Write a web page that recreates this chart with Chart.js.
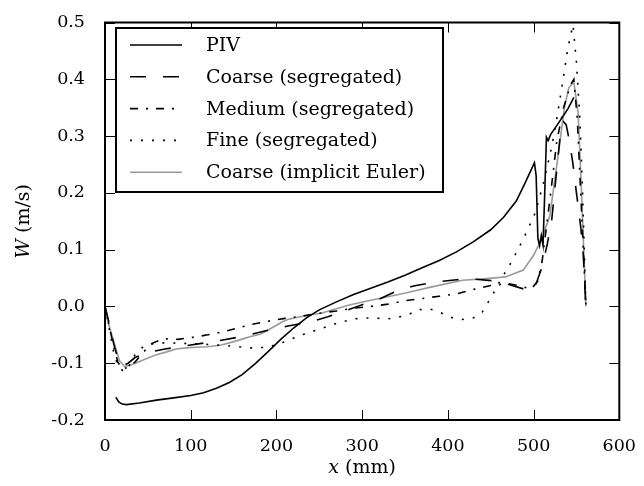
<!DOCTYPE html>
<html>
<head>
<meta charset="utf-8">
<script src="https://cdn.jsdelivr.net/npm/chart.js@4"></script>
<style>
  html, body { margin: 0; padding: 0; background: #fff; }
  #wrap { width: 644px; height: 486px; }
</style>
</head>
<body>
<div id="wrap"><canvas id="profileChart" width="644" height="486"></canvas></div>
<script>
// axial velocity W along x, measured (PIV) vs. simulations
const pivX = [12.7, 16, 20, 25, 40, 60, 80, 100, 115, 130, 145, 160, 175, 190, 205, 220, 235, 250, 270, 290, 310, 330, 350, 370, 390, 410, 430, 450, 465, 480, 490, 497, 501, 503, 505, 507, 509, 511, 513, 515, 517, 520, 530, 540, 547];
const pivW = [-0.16, -0.168, -0.172, -0.173, -0.17, -0.165, -0.161, -0.157, -0.152, -0.144, -0.134, -0.12, -0.101, -0.08, -0.058, -0.038, -0.02, -0.006, 0.008, 0.021, 0.032, 0.043, 0.055, 0.068, 0.081, 0.096, 0.114, 0.135, 0.157, 0.186, 0.217, 0.24, 0.253, 0.23, 0.12, 0.107, 0.125, 0.108, 0.2, 0.298, 0.292, 0.303, 0.325, 0.348, 0.368];

const coarseX = [0, 5, 10, 15, 20, 27, 35, 50, 70, 100, 130, 160, 190, 215, 240, 260, 280, 300, 320, 340, 360, 385, 410, 430, 455, 475, 490, 497, 503, 510, 516, 521, 527, 531, 535, 538, 542, 546, 550, 555, 558, 561];
const coarseW = [0, -0.03, -0.065, -0.092, -0.105, -0.1, -0.09, -0.081, -0.075, -0.068, -0.061, -0.053, -0.042, -0.034, -0.027, -0.018, -0.008, 0.003, 0.013, 0.027, 0.036, 0.043, 0.047, 0.048, 0.045, 0.037, 0.03, 0.026, 0.04, 0.07, 0.11, 0.15, 0.24, 0.3, 0.325, 0.32, 0.29, 0.25, 0.2, 0.14, 0.09, 0.0];

const mediumX = [0, 5, 10, 15, 20, 25, 35, 45, 55, 68, 85, 100, 120, 140, 155, 170, 190, 210, 230, 250, 270, 290, 310, 330, 350, 370, 390, 410, 430, 450, 470, 485, 497, 505, 510, 515, 520, 527, 535, 543, 547, 551, 555, 558, 561];
const mediumW = [0, -0.035, -0.07, -0.098, -0.11, -0.108, -0.098, -0.08, -0.065, -0.057, -0.058, -0.055, -0.05, -0.044, -0.038, -0.032, -0.026, -0.021, -0.017, -0.012, -0.008, -0.003, 0.0, 0.004, 0.01, 0.014, 0.018, 0.022, 0.03, 0.037, 0.04, 0.036, 0.03, 0.045, 0.08, 0.14, 0.2, 0.29, 0.35, 0.39, 0.4, 0.33, 0.2, 0.1, 0.0];

const fineX = [0, 5, 10, 15, 22, 28, 35, 45, 55, 70, 90, 110, 130, 150, 170, 190, 210, 230, 250, 270, 290, 310, 330, 352, 365, 378, 390, 405, 417, 430, 440, 452, 462, 471, 480, 490, 502, 512, 521, 527, 533, 540, 546, 550, 554, 557, 561];
const fineW = [0, -0.04, -0.08, -0.105, -0.115, -0.105, -0.085, -0.07, -0.066, -0.064, -0.065, -0.066, -0.068, -0.07, -0.073, -0.072, -0.062, -0.05, -0.04, -0.03, -0.022, -0.02, -0.022, -0.016, -0.006, -0.004, -0.01, -0.02, -0.023, -0.02, -0.01, 0.02, 0.048, 0.07, 0.095, 0.125, 0.165, 0.22, 0.28, 0.33, 0.386, 0.455, 0.496, 0.43, 0.33, 0.21, 0.0];

const eulerX = [0, 4, 10, 17, 23, 30, 37, 48, 60, 72, 83, 95, 106, 120, 136, 150, 159, 170, 181, 190, 198, 206, 213, 225, 235, 252, 270, 286, 310, 330, 352, 380, 417, 445, 467, 488, 500, 510, 519, 529, 536, 541, 547, 552, 556, 561];
const eulerW = [0, -0.03, -0.061, -0.096, -0.106, -0.103, -0.099, -0.092, -0.085, -0.08, -0.075, -0.073, -0.072, -0.071, -0.068, -0.062, -0.058, -0.053, -0.049, -0.042, -0.035, -0.028, -0.023, -0.019, -0.016, -0.012, -0.004, 0.003, 0.011, 0.017, 0.024, 0.034, 0.046, 0.049, 0.052, 0.064, 0.09, 0.12, 0.16, 0.27, 0.35, 0.385, 0.395, 0.34, 0.2, 0.0];

const seriesNames = ['PIV', 'Coarse (segregated)', 'Medium (segregated)', 'Fine (segregated)', 'Coarse (implicit Euler)'];
const xTicks = [0, 100, 200, 300, 400, 500, 600];
const yTicks = [-0.2, -0.1, 0.0, 0.1, 0.2, 0.3, 0.4, 0.5];

const SERIF = '"DejaVu Serif", serif';
const pts = (xs, ys) => xs.map((x, i) => ({ x, y: ys[i] }));

const series = [
  { data: pts(pivX, pivW), color: '#000', dash: [] },
  { data: pts(coarseX, coarseW), color: '#000', dash: [16, 17] },
  { data: pts(mediumX, mediumW), color: '#000', dash: [8, 8, 2, 8] },
  { data: pts(fineX, fineW), color: '#000', dash: [2, 9] },
  { data: pts(eulerX, eulerW), color: '#9a9a9a', dash: [] }
];

// frame, inward ticks, axis titles and the boxed legend
const decor = {
  id: 'decor',
  afterDatasetsDraw(chart) {
    const { ctx, chartArea: a, scales } = chart;
    ctx.save();
    ctx.strokeStyle = '#000';
    ctx.lineWidth = 1;
    ctx.beginPath();
    xTicks.forEach(v => {
      const px = Math.round(scales.x.getPixelForValue(v)) + 0.5;
      ctx.moveTo(px, a.bottom); ctx.lineTo(px, a.bottom - 10);
      ctx.moveTo(px, a.top); ctx.lineTo(px, a.top + 10);
    });
    yTicks.forEach(v => {
      const py = Math.round(scales.y.getPixelForValue(v)) + 0.5;
      ctx.moveTo(a.left, py); ctx.lineTo(a.left + 10, py);
      ctx.moveTo(a.right, py); ctx.lineTo(a.right - 10, py);
    });
    ctx.stroke();
    ctx.lineWidth = 2;
    ctx.strokeRect(a.left, a.top, a.right - a.left, a.bottom - a.top);

    // legend
    const lx = 116, ly = 28, lw = 327, lh = 164;
    ctx.fillStyle = '#fff';
    ctx.fillRect(lx, ly, lw, lh);
    ctx.strokeRect(lx, ly, lw, lh);
    ctx.font = '19px ' + SERIF;
    ctx.textBaseline = 'middle';
    chart.data.datasets.forEach((ds, i) => {
      const y = 45 + i * 31.8;
      ctx.beginPath();
      ctx.setLineDash(ds.borderDash || []);
      ctx.strokeStyle = ds.borderColor;
      ctx.lineWidth = ds.borderWidth;
      ctx.moveTo(130, y); ctx.lineTo(182, y);
      ctx.stroke();
      ctx.setLineDash([]);
      ctx.fillStyle = '#000';
      ctx.fillText(ds.label, 206, y + 1);
    });

    // axis titles with italic symbols
    ctx.fillStyle = '#000';
    ctx.textBaseline = 'middle';
    const title = (sym, rest) => {
      ctx.font = 'italic 19px ' + SERIF;
      const w1 = ctx.measureText(sym).width;
      ctx.font = '19px ' + SERIF;
      const w2 = ctx.measureText(rest).width;
      const x0 = -(w1 + w2) / 2;
      ctx.font = 'italic 19px ' + SERIF;
      ctx.fillText(sym, x0, 0);
      ctx.font = '19px ' + SERIF;
      ctx.fillText(rest, x0 + w1, 0);
    };
    ctx.save();
    ctx.translate((a.left + a.right) / 2, 468);
    title('x', ' (mm)');
    ctx.restore();
    ctx.save();
    ctx.translate(24, (a.top + a.bottom) / 2);
    ctx.rotate(-Math.PI / 2);
    title('W', ' (m/s)');
    ctx.restore();
    ctx.restore();
  }
};

new Chart(document.getElementById('profileChart'), {
  type: 'line',
  data: {
    datasets: series.map((s, i) => ({
      label: seriesNames[i],
      data: s.data,
      borderColor: s.color,
      borderDash: s.dash,
      borderWidth: 1.6,
      pointRadius: 0,
      tension: 0,
      fill: false
    }))
  },
  options: {
    responsive: false,
    animation: false,
    devicePixelRatio: 1,
    layout: { padding: { top: 16, right: 18, left: 0, bottom: 0 } },
    plugins: { legend: { display: false }, tooltip: { enabled: false } },
    scales: {
      x: {
        type: 'linear', min: 0, max: 600,
        afterFit(s) { s.height = 66; },
        afterBuildTicks(s) { s.ticks = xTicks.map(v => ({ value: v })); },
        grid: { display: false },
        border: { display: false },
        ticks: { color: '#000', font: { family: SERIF, size: 17.5 }, padding: 8, maxRotation: 0 }
      },
      y: {
        type: 'linear', min: -0.2, max: 0.5,
        afterFit(s) { s.width = 105; },
        afterBuildTicks(s) { s.ticks = yTicks.map(v => ({ value: v })); },
        grid: { display: false },
        border: { display: false },
        ticks: { color: '#000', font: { family: SERIF, size: 17.5 }, padding: 12,
                 callback: v => v.toFixed(1) }
      }
    }
  },
  plugins: [decor]
});
</script>
</body>
</html>
